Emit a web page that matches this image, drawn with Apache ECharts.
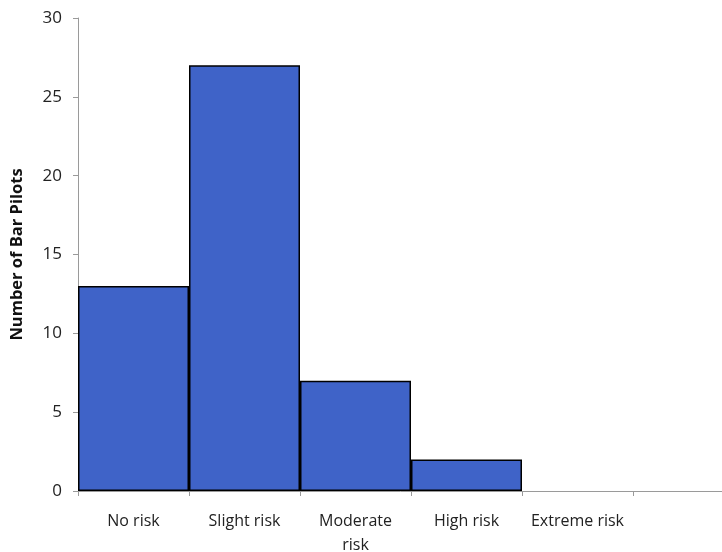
<!DOCTYPE html>
<html><head><meta charset="utf-8">
<script src="https://cdn.jsdelivr.net/npm/echarts@6/dist/echarts.min.js"></script>
<style>html,body{margin:0;padding:0;background:#fff}#c{width:722px;height:552px}</style>
</head><body><div id="c"></div>
<script>
var categories = ["No risk", "Slight risk", "Moderate\nrisk", "High risk", "Extreme risk", ""];
var pilots = [13, 27, 7, 2, 0, null];
var yTicks = [0, 5, 10, 15, 20, 25, 30];

var chart = echarts.init(document.getElementById('c'));
chart.setOption({
  animation: false,
  backgroundColor: '#ffffff',
  textStyle: { fontFamily: 'Open Sans' },
  grid: { left: 78, top: 18, bottom: 61, right: -22, containLabel: false, outerBoundsMode: 'none' },
  xAxis: {
    type: 'category',
    data: categories,
    boundaryGap: true,
    axisLine: { lineStyle: { color: '#9a9a9a', width: 1 } },
    axisTick: { show: true, alignWithLabel: false, length: 5, lineStyle: { color: '#9a9a9a' } },
    axisLabel: { color: '#222', fontSize: 16, margin: 18, lineHeight: 24, interval: 0 }
  },
  yAxis: {
    type: 'value',
    min: yTicks[0], max: yTicks[yTicks.length - 1], interval: 5,
    name: 'Number of Bar Pilots',
    nameLocation: 'middle',
    nameGap: 52,
    nameTextStyle: { fontWeight: 'bold', fontSize: 16.5, color: '#111' },
    axisLine: { show: true, lineStyle: { color: '#9a9a9a', width: 1 } },
    axisTick: { show: true, length: 5, lineStyle: { color: '#9a9a9a' } },
    axisLabel: { color: '#222', fontSize: 17, margin: 16 },
    splitLine: { show: false }
  },
  series: [{
    type: 'bar',
    data: pilots.map(function (v) { return v === 0 ? { value: v, itemStyle: { borderWidth: 0 } } : v; }),
    barWidth: '100%',
    barCategoryGap: 0,
    itemStyle: { color: '#3f63c8', borderColor: '#000', borderWidth: 1.5 }
  }]
});
</script></body></html>
